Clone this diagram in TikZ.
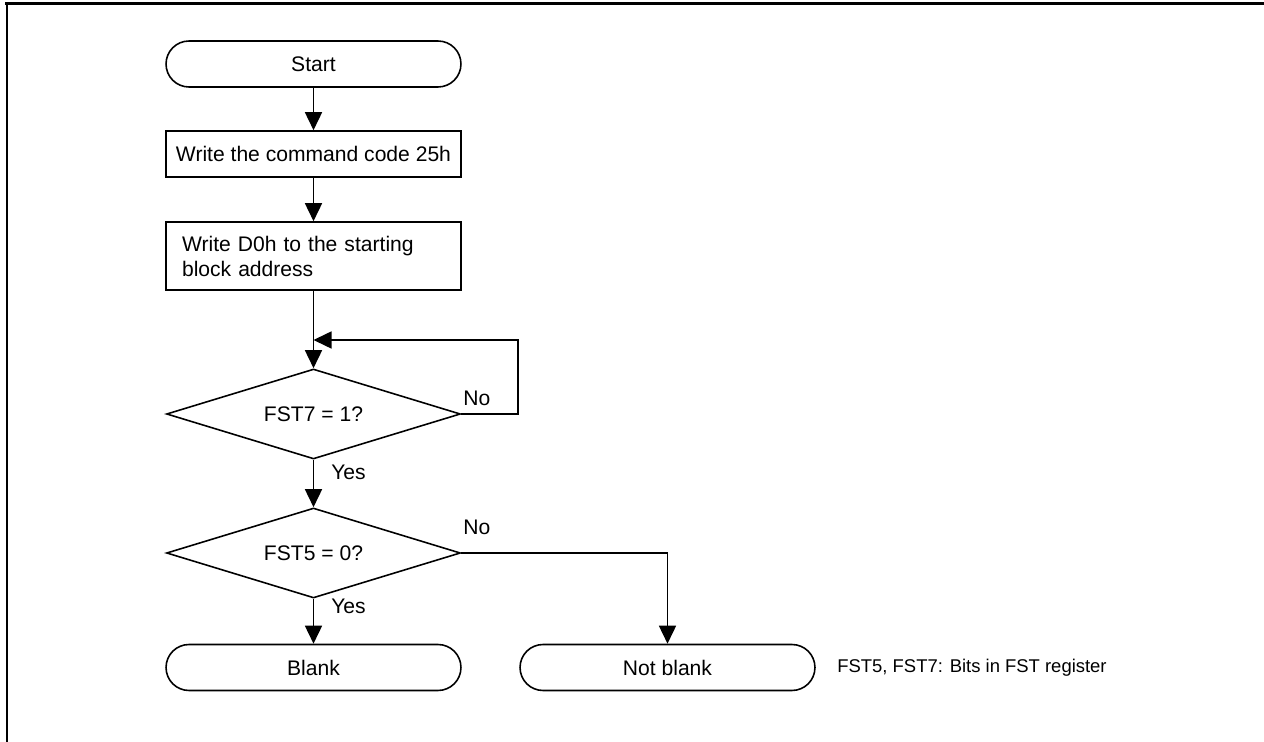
\documentclass[tikz,border=0pt]{standalone}
\usepackage{fontspec}
\setmainfont{Liberation Sans}
\usepackage{tikz}
\usetikzlibrary{shapes.geometric, arrows.meta, positioning}

\tikzset{
  term/.style={draw, line width=0.9pt, rounded corners=0.46cm, minimum width=5.9cm,
    minimum height=0.92cm, inner sep=0pt, font=\fontsize{12}{14}\selectfont},
  proc/.style={draw, line width=0.9pt, minimum width=5.9cm, minimum height=0.92cm,
    inner sep=0pt, font=\fontsize{12}{14}\selectfont},
  dec/.style={draw, diamond, aspect=3.27, line width=0.9pt, minimum width=5.88cm,
    minimum height=1.8cm, inner sep=0pt, font=\fontsize{12}{14}\selectfont},
  flow/.style={line width=0.9pt, -{Triangle[length=0.36cm, width=0.34cm]}},
  lab/.style={inner sep=0pt, font=\fontsize{12}{14}\selectfont}
}

\begin{document}
\begin{tikzpicture}[x=0.02cm, y=-0.02cm]
  \useasboundingbox (0,0) rectangle (1264,742);

  % --- Frame (top and left only) ---
  \draw[line width=1.7pt] (5,4) -- (1264,4);
  \draw[line width=1.7pt] (7,3) -- (7,742);

  % --- Main column ---
  \node[term] (start) at (313.5,64) {Start};
  \node[proc] (cmd) at (313.5,154) {Write the command code 25h};
  \node[proc, text width=5.26cm, inner xsep=0.32cm, minimum height=1.36cm, align=left,
    font=\fontsize{12}{14.2}\selectfont] (addr) at (313.5,256)
    {Write D0h to the starting\\block address};
  \node[dec] (fst7) at (313.5,414) {FST7 = 1?};
  \node[dec] (fst5) at (313.5,553) {FST5 = 0?};

  % Ends
  \node[term] (blank) at (313.5,667.5) {Blank};
  \node[term] (notblank) at (667.5,667.5) {Not blank};

  % Note
  \node[anchor=west, inner sep=0pt, font=\fontsize{10.5}{12}\selectfont] (note)
    at (837,668) {FST5, FST7: Bits in FST register};

  % --- Connectors ---
  \coordinate (join) at (313.5,340);
  \coordinate (loopr) at (518,340);

  \draw[flow] (start) -- (cmd);
  \draw[flow] (cmd) -- (addr);
  \draw[flow] (addr) -- (fst7);
  \draw[flow] (fst7.east) -| (loopr) -- (join);
  \draw[flow] (fst7) -- (fst5);
  \draw[flow] (fst5) -- (blank);
  \draw[flow] (fst5.east) -| (notblank.north);

  % Branch labels
  \node[lab, anchor=west] (no7) at (463,398) {No};
  \node[lab, anchor=west] (yes7) at (331,472) {Yes};
  \node[lab, anchor=west] (no5) at (463,527) {No};
  \node[lab, anchor=west] (yes5) at (331,606) {Yes};
\end{tikzpicture}
\end{document}
